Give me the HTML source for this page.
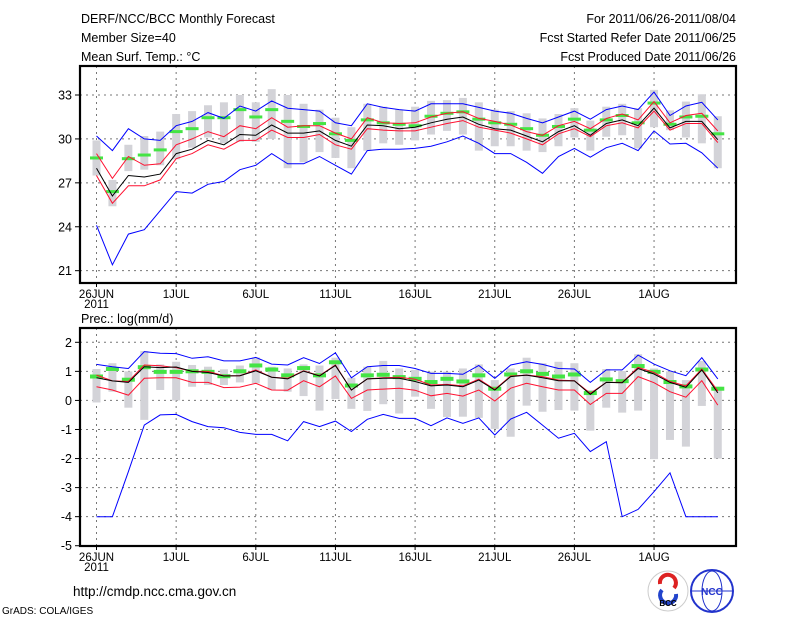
<!DOCTYPE html>
<html><head><meta charset="utf-8"><style>
body{margin:0;background:#fff;width:800px;height:618px;overflow:hidden}
svg{display:block;font-family:"Liberation Sans",sans-serif}
</style></head><body>
<svg id="c" width="800" height="618" viewBox="0 0 800 618" xmlns="http://www.w3.org/2000/svg">
<g font-size="12.5" fill="#000">
<text x="81" y="23">DERF/NCC/BCC Monthly Forecast</text>
<text x="81" y="42">Member Size=40</text>
<text x="81" y="61">Mean Surf. Temp.: °C</text>
<text x="736" y="23" text-anchor="end">For 2011/06/26-2011/08/04</text>
<text x="736" y="42" text-anchor="end">Fcst Started Refer Date 2011/06/25</text>
<text x="736" y="61" text-anchor="end">Fcst Produced Date 2011/06/26</text>
<text x="81" y="323">Prec.: log(mm/d)</text>
<text x="73" y="596" font-size="13.5">http://cmdp.ncc.cma.gov.cn</text>
<text x="2" y="614" font-size="10">GrADS: COLA/IGES</text>
</g>
<g>
<circle cx="668" cy="591" r="20" fill="#fff" stroke="#ccc"/>
<path d="M660 584 a8 8 0 1 1 14 4" stroke="#d22" stroke-width="4" fill="none"/>
<path d="M676 594 a8 8 0 1 1 -14 -4" stroke="#24c" stroke-width="4" fill="none"/>
<text x="668" y="606" font-size="8" text-anchor="middle" font-weight="bold">BCC</text>
</g>
<g>
<circle cx="712" cy="591" r="21" fill="#fff" stroke="#23c" stroke-width="2"/>
<ellipse cx="712" cy="591" rx="10" ry="20" fill="none" stroke="#23c"/>
<line x1="692" y1="591" x2="732" y2="591" stroke="#23c"/>
<text x="712" y="595" font-size="10" text-anchor="middle" fill="#23c" font-weight="bold">NCC</text>
</g>
<g id="p1"></g><g id="p2"></g>
</svg>
<script>
// Temperature panel data
const tMax=[30.2,29.2,30.7,30.0,29.9,30.9,31.2,31.8,31.4,32.25,31.9,32.6,32.1,32.0,31.9,31.1,30.9,32.4,32.15,32.0,31.9,32.4,32.4,32.4,32.15,31.9,31.75,31.4,31.1,31.5,31.9,31.35,32.0,32.25,32.0,33.2,31.6,32.25,32.5,31.3];
const tMin=[24.1,21.4,23.5,23.8,25.1,26.4,26.3,26.9,27.1,27.9,28.2,29.0,28.3,28.3,28.8,28.2,27.6,29.2,29.3,29.3,29.35,29.5,29.8,30.2,29.7,29.0,29.0,28.4,27.65,28.8,29.35,28.75,29.4,29.7,29.2,30.55,29.65,29.7,29.05,28.0];
const tUp=[29.0,27.3,28.8,28.2,28.3,29.6,30.0,30.5,30.15,30.9,30.7,31.45,30.8,30.9,30.9,30.4,30.0,31.45,31.1,31.05,31.1,31.5,31.75,31.85,31.4,31.2,30.95,30.5,30.25,30.9,31.2,30.7,31.4,31.7,31.3,32.55,31.1,31.6,31.75,30.55];
const tMean=[28.0,26.1,27.5,27.4,27.6,29.0,29.3,29.9,29.6,30.3,30.25,30.95,30.4,30.4,30.55,29.9,29.5,30.95,30.9,30.7,30.8,31.1,31.35,31.5,31.0,30.7,30.6,30.2,29.8,30.5,30.9,30.25,31.05,31.3,30.9,32.1,30.75,31.2,31.2,29.95];
const tLow=[27.5,25.6,26.8,26.8,27.2,28.65,29.0,29.6,29.3,29.9,29.9,30.6,30.1,30.1,30.3,29.6,29.3,30.7,30.6,30.55,30.55,30.8,31.05,31.25,30.8,30.6,30.4,30.0,29.6,30.35,30.7,30.15,30.9,31.1,30.75,31.9,30.6,31.05,31.05,29.75];
const tMed=[28.7,26.4,28.65,28.9,29.25,30.5,30.7,31.45,31.45,32.0,31.5,32.0,31.2,30.85,31.05,30.35,29.9,31.3,31.1,31.0,30.9,31.55,31.75,31.85,31.35,31.1,31.0,30.7,30.25,30.85,31.35,30.6,31.3,31.6,31.1,32.45,31.0,31.5,31.55,30.35];
const tBoxHi=[29.9,27.2,29.6,30.2,30.5,31.7,31.9,32.3,32.5,33.0,32.5,33.4,33.0,32.4,32.0,31.45,30.8,32.4,32.2,32.0,32.2,32.6,32.65,32.8,32.5,32.0,31.9,31.75,31.4,31.7,32.1,31.25,32.2,32.4,32.1,33.35,31.95,32.55,33.05,31.55];
const tBoxLo=[27.5,25.4,27.8,27.9,28.2,28.6,29.4,30.1,29.7,29.8,29.8,30.0,28.0,28.4,29.1,28.7,28.0,29.2,29.7,29.6,29.9,30.3,30.55,30.3,29.2,29.5,29.5,29.2,29.1,29.5,30.1,29.2,30.15,30.25,29.35,30.8,30.6,30.1,29.7,28.0];
const tTicks=[21,24,27,30,33];
// Precipitation panel data
const pMax=[1.24,1.16,1.1,1.68,1.62,1.61,1.45,1.5,1.36,1.36,1.48,1.25,1.22,1.47,1.27,1.64,0.78,1.16,1.2,1.2,1.1,0.93,0.93,0.9,1.2,0.76,1.22,1.33,1.24,1.1,1.08,0.62,1.05,1.05,1.56,1.25,1.02,0.85,1.47,0.74];
const pMin=[-4,-4,-2.45,-0.85,-0.5,-0.48,-0.73,-0.9,-0.94,-1.1,-1.17,-1.17,-1.39,-0.73,-0.9,-0.71,-1.07,-0.65,-0.48,-0.62,-0.62,-0.87,-0.6,-0.79,-0.6,-1.19,-0.64,-0.41,-0.85,-1.3,-1.13,-1.76,-1.42,-4,-3.75,-3.14,-2.49,-4,-4,-4];
const pUp=[0.87,0.67,0.65,1.22,1.19,1.13,1.0,1.0,0.85,0.85,1.05,0.8,0.76,1.02,0.85,1.22,0.36,0.74,0.78,0.8,0.73,0.53,0.55,0.5,0.73,0.38,0.84,0.87,0.82,0.7,0.68,0.24,0.62,0.62,1.14,0.96,0.65,0.5,1.08,0.32];
const pMean=[0.78,0.67,0.62,1.16,1.13,1.15,1.0,0.96,0.84,0.85,1.02,0.8,0.74,1.01,0.84,1.2,0.36,0.74,0.76,0.76,0.65,0.5,0.53,0.47,0.7,0.36,0.82,0.87,0.78,0.68,0.67,0.21,0.62,0.61,1.1,0.91,0.62,0.45,1.05,0.26];
const pLow=[0.47,0.36,0.18,0.76,0.78,0.78,0.62,0.62,0.44,0.46,0.59,0.36,0.35,0.68,0.47,0.84,0.07,0.36,0.39,0.42,0.35,0.16,0.24,0.15,0.36,-0.02,0.42,0.59,0.47,0.36,0.36,-0.14,0.24,0.24,0.82,0.61,0.3,0.11,0.68,-0.16];
const pMed=[0.84,1.1,0.73,1.16,1.0,1.0,1.02,1.0,0.85,1.02,1.22,1.08,0.88,1.13,0.88,1.33,0.53,0.88,0.9,0.82,0.76,0.65,0.76,0.67,0.88,0.42,0.91,1.02,0.93,0.84,0.91,0.27,0.74,0.68,1.2,1.0,0.65,0.5,1.08,0.42];
const pBoxHi=[1.08,1.28,1.0,1.7,1.24,1.33,1.22,1.16,1.07,1.2,1.48,1.16,1.1,1.24,1.2,1.47,0.78,1.16,1.36,1.1,1.05,0.99,0.99,1.1,1.24,0.7,1.1,1.47,1.28,1.33,1.28,0.36,1.08,1.01,1.59,1.1,1.0,0.7,1.36,0.47];
const pBoxLo=[-0.07,0.3,-0.25,-0.67,0.36,0,0.47,0.53,0.53,0.62,0.59,0.36,0.3,0.15,-0.35,0.05,-0.29,-0.36,-0.13,-0.45,0.13,-0.29,-0.57,-0.56,-0.6,-0.98,-1.25,-0.18,-0.39,-0.33,-0.35,-1.04,-0.25,-0.42,-0.35,-2.02,-1.36,-1.59,-0.19,-2.0];
const pTicks=[-5,-4,-3,-2,-1,0,1,2];
const dateLabels=['26JUN','1JUL','6JUL','11JUL','16JUL','21JUL','26JUL','1AUG'];

const NS='http://www.w3.org/2000/svg';
const L=80,R=736,X0=96.5,DX=15.93;
const xs=i=>X0+i*DX;
function mk(g,tag,at){const e=document.createElementNS(NS,tag);for(const k in at)e.setAttribute(k,at[k]);g.appendChild(e);return e;}
function panel(gid,top,bot,ys,ticks,maxA,minA,upA,meanA,lowA,medA,hiA,loA,lbl){
  const g=document.getElementById(gid);
  ticks.forEach(t=>{const y=ys(t);
    if(y>top+1&&y<bot-1){const l=mk(g,'line',{x1:L,x2:R,y1:y,y2:y,stroke:'#777','stroke-dasharray':'2,4','stroke-width':1});
    
    }
    const tk=mk(g,'line',{x1:L-5,x2:L,y1:y,y2:y,stroke:'#000'});
    
    
    const tx=mk(g,'text',{x:L-8,y:y+4.5,'text-anchor':'end','font-size':12.5});tx.textContent=t;
    
    
  });
  dateLabels.forEach((d,k)=>{const x=xs(k*5);
    const l=mk(g,'line',{x1:x,x2:x,y1:top,y2:bot,stroke:'#777','stroke-dasharray':'2,4'});
    
    
    const tk=mk(g,'line',{x1:x,x2:x,y1:bot,y2:bot+4,stroke:'#000'});
    
    
    const tx=mk(g,'text',{x:x,y:bot+15,'text-anchor':'middle','font-size':11.5});tx.textContent=d;
    
    
  });
  const yr=mk(g,'text',{x:xs(0),y:bot+25,'text-anchor':'middle','font-size':11.5});yr.textContent='2011';
  
  
  hiA.forEach((h,i)=>{const y1=ys(h),y2=ys(loA[i]);
    const b=mk(g,'rect',{x:xs(i)-4,y:y1,width:8,height:Math.max(1,y2-y1),fill:'#d3d3d8'});
    
    });
  medA.forEach((m,i)=>{const b=mk(g,'rect',{x:xs(i)-6.5,y:ys(m)-1.5,width:13,height:lbl?4:3,fill:'#44e444'});
    
    });
  const line=(a,c,n)=>{const p=mk(g,'polyline',{points:a.map((v,i)=>xs(i).toFixed(1)+','+ys(v).toFixed(1)).join(' '),fill:'none',stroke:c,'stroke-width':1});
    
    };
  line(maxA,'#0000ff','max-line');line(minA,'#0000ff','min-line');
  line(upA,'#ff1030','upper-line');line(lowA,'#ff1030','lower-line');line(meanA,'#000','mean-line');
  const f=mk(g,'rect',{x:L,y:top,width:R-L,height:bot-top,fill:'none',stroke:'#000','stroke-width':2.2});
  
  
}
panel('p1',66,283,v=>95+(33-v)*14.64,tTicks,tMax,tMin,tUp,tMean,tLow,tMed,tBoxHi,tBoxLo,false);
panel('p2',328,546,v=>342.3+(2-v)*29.06,pTicks,pMax,pMin,pUp,pMean,pLow,pMed,pBoxHi,pBoxLo,true);
</script>
</body></html>
